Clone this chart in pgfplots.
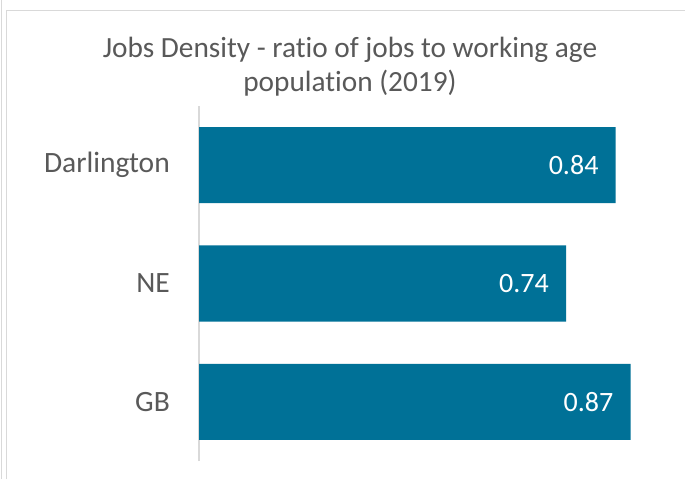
\documentclass[border=0pt]{standalone}
\usepackage{fontspec}
\setmainfont{Carlito}[Ligatures=NoCommon]
\usepackage{pgfplots}
\pgfplotsset{compat=1.18}

\definecolor{barteal}{HTML}{007197}
\definecolor{txtgray}{HTML}{595959}
\definecolor{linegray}{HTML}{D9D9D9}

\begin{document}
\begin{tikzpicture}
\path[use as bounding box] (0,0) rectangle (685pt,479pt);
\fill[white] (0,0) rectangle (685pt,479pt);
% chart frame
\draw[linegray, line width=1.3pt] (1.5pt,0) -- (1.5pt,479pt);
\draw[linegray, line width=1.3pt] (6.5pt,0) -- (6.5pt,468.5pt) -- (685pt,468.5pt);
% title (anchor=base sits on the last line)
\node[txtgray, align=center, font=\fontsize{29.3}{34}\selectfont, anchor=base]
  at (350pt,387pt) {Jobs Density - ratio of jobs to working age\\population (2019)};
\begin{axis}[
    at={(199pt,18pt)}, anchor=south west,
    scale only axis,
    width=496pt, height=355pt,
    xmin=0, xmax=1,
    ymin=0.5, ymax=3.5,
    xbar, bar width=76pt, bar shift=0pt,
    axis x line=none,
    axis y line*=left,
    y axis line style={linegray, line width=1.2pt},
    ytick={1,2,3},
    yticklabels={GB,NE,Darlington},
    major tick length=0pt,
    yticklabel style={txtgray, inner sep=0pt, xshift=-29pt,
        font=\fontsize{29.5}{34}\selectfont},
    nodes near coords,
    /pgf/number format/.cd, fixed, precision=2, assume math mode=true,
    /pgfplots/.cd,
    every node near coord/.append style={anchor=east, white, inner sep=0pt,
        xshift=-17pt, font=\fontsize{28}{34}\selectfont},
    clip=false,
]
\addplot[fill=barteal, draw=none] coordinates {
    (0.87,1) (0.74,2) (0.84,3)
};
\end{axis}
\end{tikzpicture}
\end{document}
